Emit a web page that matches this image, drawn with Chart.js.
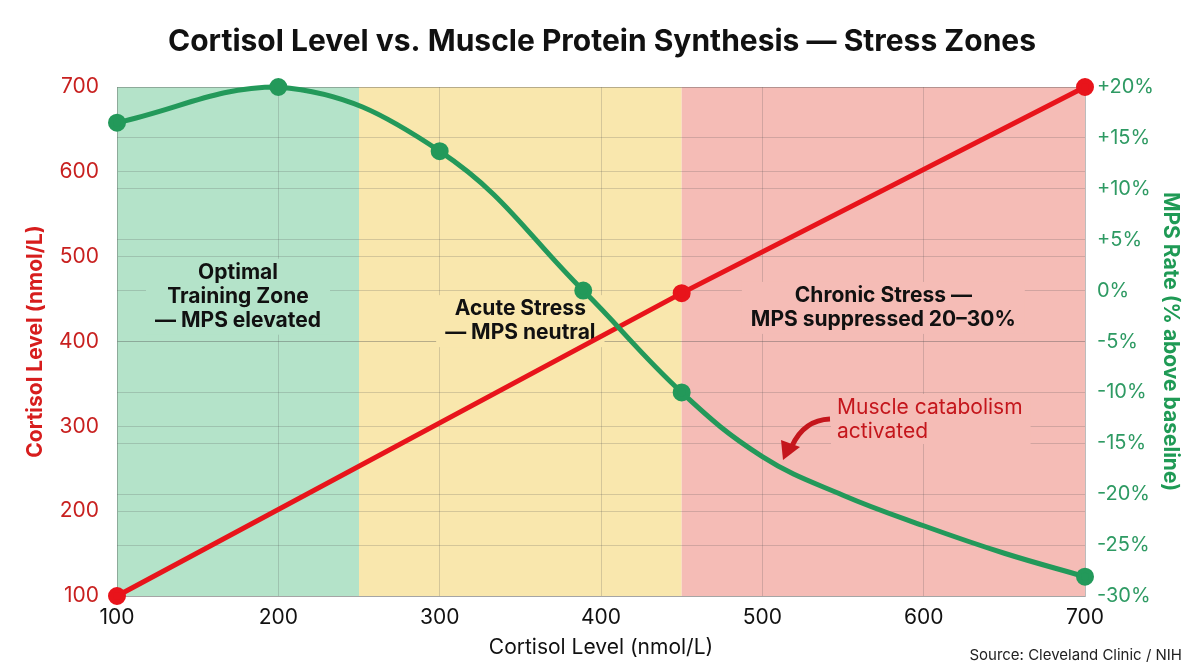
<!DOCTYPE html>
<html>
<head>
<meta charset="utf-8">
<script src="https://cdn.jsdelivr.net/npm/chart.js@4.4.1/dist/chart.umd.min.js"></script>
<style>
  body { margin: 0; background: #fff; }
  #wrap { width: 1204px; height: 672px; position: relative; }
</style>
</head>
<body>
<div id="wrap"><canvas id="chart"></canvas></div>
<script>
// cortisol line (left axis)
const cortisolX = [100, 450, 700];
const cortisolY = [100, 457, 700];
// MPS curve (right axis, % above baseline); only some points carry a marker
const mpsX = [100, 200, 300, 389, 450, 500, 550, 600, 650, 700];
const mpsY = [16.5, 20, 13.7, 0, -10, -16.3, -20.1, -23.1, -25.8, -28.1];
const mpsMarker = [true, true, true, true, true, false, false, false, false, true];

const xTicks = [100, 200, 300, 400, 500, 600, 700];
const leftTicks = [100, 200, 300, 400, 500, 600, 700];
const rightTicks = [-30, -25, -20, -15, -10, -5, 0, 5, 10, 15, 20];

const zoneStart = [100, 250, 450];
const zoneEnd = [250, 450, 700];
const zoneColors = ['#b4e3c9', '#f9e7ad', '#f5bcb6'];
const zoneLabels = [
  ['Optimal', 'Training Zone', '— MPS elevated'],
  ['Acute Stress', '— MPS neutral'],
  ['Chronic Stress —', 'MPS suppressed 20–30%']
];
const zoneLabelY = [-0.6, -3, -1.7]; // on the MPS axis

const RED = '#e8141b';
const GREEN = '#23995a';
const FONT = 'Inter, "Noto Sans", sans-serif';

const zonePlugin = {
  id: 'zones',
  beforeDraw(chart) {
    const { ctx, chartArea, scales } = chart;
    ctx.save();
    zoneStart.forEach((s, i) => {
      const x0 = scales.x.getPixelForValue(s);
      const x1 = scales.x.getPixelForValue(zoneEnd[i]);
      ctx.fillStyle = zoneColors[i];
      ctx.fillRect(x0, chartArea.top, x1 - x0, chartArea.bottom - chartArea.top);
    });
    ctx.restore();
  },
  beforeDatasetsDraw(chart) {
    const { ctx, scales } = chart;
    ctx.save();
    ctx.font = 'bold 21px ' + FONT;
    ctx.textAlign = 'center';
    ctx.textBaseline = 'middle';
    const lh = 24;
    zoneLabels.forEach((lines, i) => {
      const cx = scales.x.getPixelForValue((zoneStart[i] + zoneEnd[i]) / 2);
      const cy = scales.yR.getPixelForValue(zoneLabelY[i]);
      const y0 = cy - (lines.length - 1) * lh / 2;
      const w = Math.max(...lines.map(l => ctx.measureText(l).width)) + 18;
      ctx.fillStyle = zoneColors[i];
      ctx.fillRect(cx - w / 2, y0 - lh / 2 - 2, w, lines.length * lh + 4);
      ctx.fillStyle = '#111';
      lines.forEach((l, j) => ctx.fillText(l, cx, y0 + j * lh));
    });

    // catabolism note
    ctx.font = '21px ' + FONT;
    ctx.textAlign = 'left';
    const nw = ctx.measureText('Muscle catabolism').width;
    ctx.fillStyle = zoneColors[2];
    ctx.fillRect(831, 394, nw + 14, 50);
    ctx.fillStyle = '#c4161c';
    ctx.fillText('Muscle catabolism', 837, 408);
    ctx.fillText('activated', 837, 432);
    ctx.strokeStyle = '#c4161c';
    ctx.lineWidth = 5;
    ctx.beginPath();
    ctx.moveTo(830, 419);
    ctx.quadraticCurveTo(804, 420, 792, 446);
    ctx.stroke();
    ctx.fillStyle = '#c4161c';
    ctx.beginPath();
    ctx.moveTo(783, 460);
    ctx.lineTo(781, 440);
    ctx.lineTo(800, 447);
    ctx.closePath();
    ctx.fill();
    ctx.restore();
  },
  afterDraw(chart) {
    const { ctx } = chart;
    ctx.save();
    ctx.font = '15px ' + FONT;
    ctx.fillStyle = '#222';
    ctx.textAlign = 'right';
    ctx.textBaseline = 'middle';
    ctx.fillText('Source: Cleveland Clinic / NIH', 1182, 655);
    ctx.restore();
  }
};

const gridColor = 'rgba(80,80,80,0.22)';

new Chart(document.getElementById('chart'), {
  type: 'line',
  data: {
    datasets: [
      {
        label: 'Cortisol',
        data: cortisolX.map((x, i) => ({ x, y: cortisolY[i] })),
        borderColor: RED,
        backgroundColor: RED,
        borderWidth: 5,
        pointRadius: 6.5,
        pointHoverRadius: 6.5,
        clip: false,
        yAxisID: 'yL',
        order: 2
      },
      {
        label: 'MPS',
        data: mpsX.map((x, i) => ({ x, y: mpsY[i] })),
        borderColor: GREEN,
        backgroundColor: GREEN,
        borderWidth: 5,
        pointRadius: mpsMarker.map(m => (m ? 6.5 : 0)),
        pointHoverRadius: mpsMarker.map(m => (m ? 6.5 : 0)),
        tension: 0.4,
        clip: false,
        yAxisID: 'yR',
        order: 1
      }
    ]
  },
  options: {
    responsive: true,
    maintainAspectRatio: false,
    animation: false,
    layout: { padding: 0 },
    plugins: {
      legend: { display: false },
      tooltip: { enabled: false },
      title: {
        display: true,
        text: 'Cortisol Level vs. Muscle Protein Synthesis — Stress Zones',
        color: '#111',
        font: { family: FONT, size: 30, weight: 'bold' },
        padding: { top: 24, bottom: 27 }
      }
    },
    scales: {
      x: {
        type: 'linear',
        min: 100,
        max: 700,
        afterBuildTicks: s => { s.ticks = xTicks.map(v => ({ value: v })); },
        afterFit: s => { s.height = 76; },
        grid: { color: gridColor, drawTicks: false },
        border: { color: gridColor },
        ticks: { color: '#111', padding: 9, font: { family: FONT, size: 21 } },
        title: {
          display: true,
          text: 'Cortisol Level (nmol/L)',
          color: '#111',
          font: { family: FONT, size: 21 },
          padding: { bottom: 12 }
        }
      },
      yL: {
        position: 'left',
        min: 100,
        max: 700,
        afterBuildTicks: s => { s.ticks = leftTicks.map(v => ({ value: v })); },
        afterFit: s => { s.width = 117; },
        grid: { color: gridColor, drawTicks: false },
        border: { color: gridColor },
        ticks: { color: '#c8201f', padding: 18, font: { family: FONT, size: 21 } },
        title: {
          display: true,
          text: 'Cortisol Level (nmol/L)',
          color: '#d71d1d',
          font: { family: FONT, size: 21, weight: 'bold' },
          padding: { top: 23 }
        }
      },
      yR: {
        position: 'right',
        min: -30,
        max: 20,
        afterBuildTicks: s => { s.ticks = rightTicks.map(v => ({ value: v })); },
        afterFit: s => { s.width = 119; },
        grid: { color: gridColor, drawTicks: false },
        border: { color: gridColor },
        ticks: {
          color: '#2e9a63',
          padding: 12,
          font: { family: FONT, size: 20 },
          callback: v => (v > 0 ? '+' : '') + v + '%'
        },
        title: {
          display: true,
          text: 'MPS Rate (% above baseline)',
          color: '#1f9a55',
          font: { family: FONT, size: 21, weight: 'bold' },
          padding: { top: 21 }
        }
      }
    }
  },
  plugins: [zonePlugin]
});
</script>
</body>
</html>
